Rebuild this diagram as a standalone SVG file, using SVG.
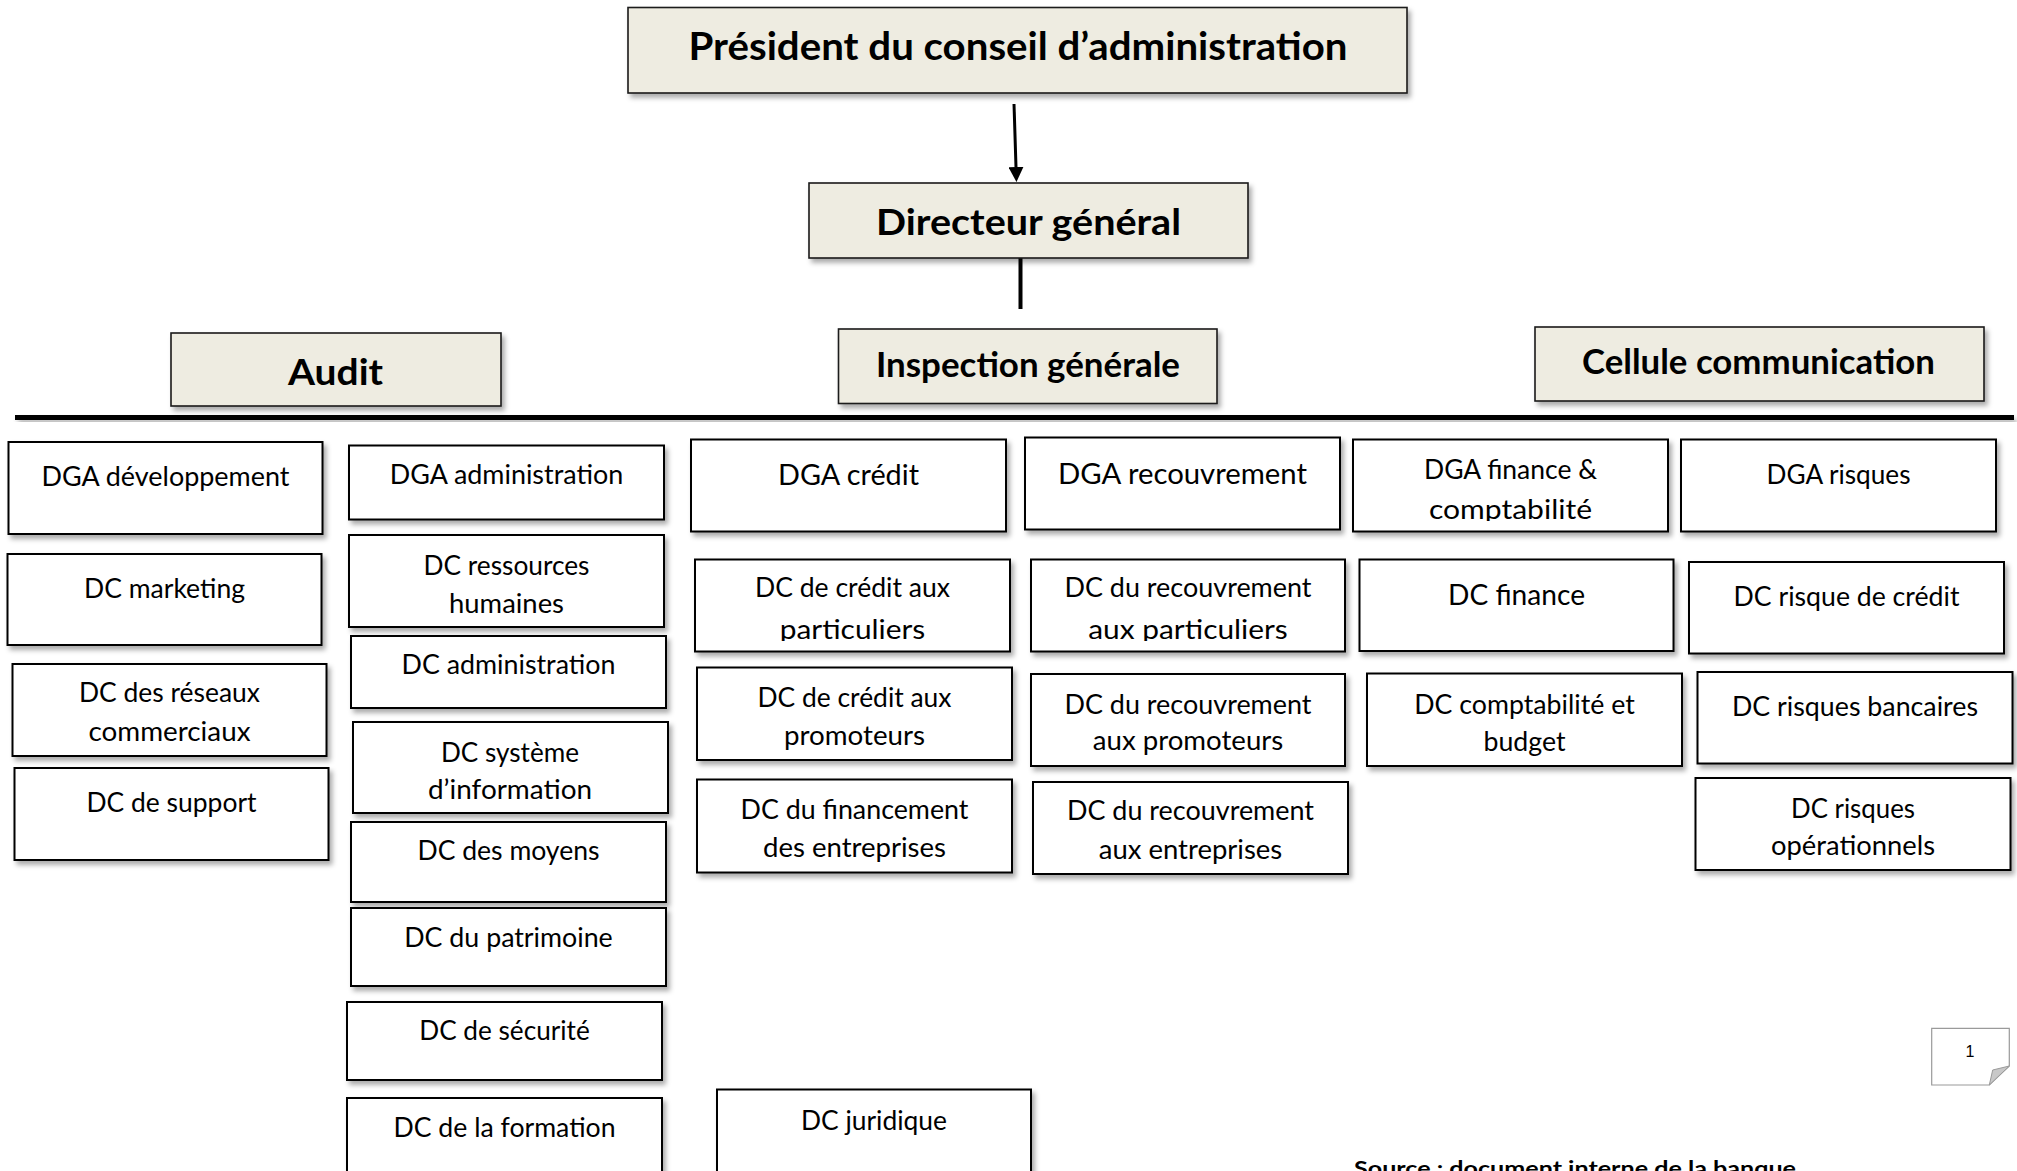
<svg xmlns="http://www.w3.org/2000/svg" width="2017" height="1171" viewBox="0 0 2017 1171">
  <defs>
    <style>
      .box { fill: #ffffff; stroke: #000000; stroke-width: 2; filter: url(#sh); }
      .head { fill: #EEECE1; stroke: #1a1a1a; stroke-width: 1.6; filter: url(#sh); }
      .t { font-family: Lato, "Noto Sans", "Liberation Sans", sans-serif; font-size: 26px; fill: #000; text-anchor: middle; }
      .tl { font-size: 28.5px; }
      .tb { font-family: Lato, "Noto Sans", "Liberation Sans", sans-serif; font-weight: bold; fill: #000; text-anchor: middle; }
      .wire { stroke: #000; fill: none; }
      .note { fill: #ffffff; stroke: #9a9a9a; stroke-width: 1.2; }
    </style>
    <filter id="sh" x="-5%" y="-10%" width="115%" height="135%">
      <feDropShadow dx="3" dy="4" stdDeviation="2.5" flood-color="#000" flood-opacity="0.33"/>
    </filter>
    <marker id="arrow" viewBox="0 0 10 10" refX="0" refY="5" markerUnits="userSpaceOnUse" markerWidth="15" markerHeight="15" orient="auto">
      <path d="M0,0 L10,5 L0,10 z" fill="#000"/>
    </marker>
    <!-- text frames that crop the second line of some boxes -->
    <clipPath id="clipCreditPart"><rect x="695" y="559" width="315" height="82"/></clipPath>
    <clipPath id="clipRecPart"><rect x="1031" y="559" width="315" height="82"/></clipPath>
    <clipPath id="clipDgaFin"><rect x="1353" y="439" width="315" height="82"/></clipPath>
  </defs>

  <rect x="0" y="0" width="2017" height="1171" fill="#ffffff"/>

  <!-- connectors -->
  <g id="connectors">
    <line class="wire" x1="1014" y1="104" x2="1016" y2="167" stroke-width="3" marker-end="url(#arrow)"/>
    <line class="wire" x1="1020.5" y1="258" x2="1020.5" y2="309" stroke-width="4"/>
    <rect x="15" y="415" width="1999" height="5" fill="#000" filter="url(#sh)"/>
  </g>

  <!-- top management -->
  <g id="president">
    <rect class="head" x="628" y="7.5" width="779" height="85.5"/>
    <text class="tb" x="1018" y="59.5" font-size="39" textLength="659" lengthAdjust="spacingAndGlyphs">Président du conseil d’administration</text>
  </g>
  <g id="directeur-general">
    <rect class="head" x="809" y="183" width="439" height="75"/>
    <text class="tb" x="1028.5" y="235" font-size="37" textLength="305" lengthAdjust="spacingAndGlyphs">Directeur général</text>
  </g>
  <g id="audit">
    <rect class="head" x="171" y="333" width="330" height="73"/>
    <text class="tb" x="335.5" y="385" font-size="36" textLength="95" lengthAdjust="spacingAndGlyphs">Audit</text>
  </g>
  <g id="inspection-generale">
    <rect class="head" x="838.5" y="329" width="378.5" height="74.5"/>
    <text class="tb" x="1028" y="377" font-size="34" textLength="304" lengthAdjust="spacingAndGlyphs">Inspection générale</text>
  </g>
  <g id="cellule-communication">
    <rect class="head" x="1535" y="327" width="449" height="74"/>
    <text class="tb" x="1758.5" y="373.5" font-size="34" textLength="353" lengthAdjust="spacingAndGlyphs">Cellule communication</text>
  </g>

  <!-- column 1: développement -->
  <g id="dga-developpement">
    <rect class="box" x="8.5" y="442" width="314" height="92"/>
    <text class="t" x="165.5" y="486" textLength="248" lengthAdjust="spacingAndGlyphs">DGA développement</text>
  </g>
  <g id="dc-marketing">
    <rect class="box" x="7.5" y="554" width="314" height="91"/>
    <text class="t" x="164.5" y="598" textLength="161" lengthAdjust="spacingAndGlyphs">DC marketing</text>
  </g>
  <g id="dc-reseaux">
    <rect class="box" x="12.5" y="664" width="314" height="92"/>
    <text class="t" x="169.5" y="702" textLength="181" lengthAdjust="spacingAndGlyphs">DC des réseaux</text>
    <text class="t" x="169.5" y="741" textLength="162" lengthAdjust="spacingAndGlyphs">commerciaux</text>
  </g>
  <g id="dc-support">
    <rect class="box" x="14.5" y="768" width="314" height="92"/>
    <text class="t" x="171.5" y="812" textLength="170" lengthAdjust="spacingAndGlyphs">DC de support</text>
  </g>

  <!-- column 2: administration -->
  <g id="dga-administration">
    <rect class="box" x="349" y="445.5" width="315" height="74"/>
    <text class="t" x="506.5" y="483.5" textLength="233.5" lengthAdjust="spacingAndGlyphs">DGA administration</text>
  </g>
  <g id="dc-ressources-humaines">
    <rect class="box" x="349" y="535" width="315" height="92"/>
    <text class="t" x="506.5" y="575" textLength="166" lengthAdjust="spacingAndGlyphs">DC ressources</text>
    <text class="t" x="506.5" y="613" textLength="115" lengthAdjust="spacingAndGlyphs">humaines</text>
  </g>
  <g id="dc-administration">
    <rect class="box" x="351" y="636" width="315" height="72"/>
    <text class="t" x="508.5" y="673.5" textLength="214" lengthAdjust="spacingAndGlyphs">DC administration</text>
  </g>
  <g id="dc-systeme-information">
    <rect class="box" x="353" y="722" width="315" height="91"/>
    <text class="t" x="510" y="762" textLength="138" lengthAdjust="spacingAndGlyphs">DC système</text>
    <text class="t" x="510" y="798.5" textLength="164" lengthAdjust="spacingAndGlyphs">d’information</text>
  </g>
  <g id="dc-moyens">
    <rect class="box" x="351" y="822" width="315" height="80"/>
    <text class="t" x="508.5" y="859.5" textLength="182" lengthAdjust="spacingAndGlyphs">DC des moyens</text>
  </g>
  <g id="dc-patrimoine">
    <rect class="box" x="351" y="908" width="315" height="78"/>
    <text class="t" x="508.5" y="947" textLength="208.5" lengthAdjust="spacingAndGlyphs">DC du patrimoine</text>
  </g>
  <g id="dc-securite">
    <rect class="box" x="347" y="1002" width="315" height="78"/>
    <text class="t" x="504.5" y="1040" textLength="170.5" lengthAdjust="spacingAndGlyphs">DC de sécurité</text>
  </g>
  <g id="dc-formation">
    <rect class="box" x="347" y="1098" width="315" height="92"/>
    <text class="t" x="504.5" y="1137" textLength="222" lengthAdjust="spacingAndGlyphs">DC de la formation</text>
  </g>

  <!-- column 3: crédit -->
  <g id="dga-credit">
    <rect class="box" x="691" y="439.5" width="315" height="92"/>
    <text class="t tl" x="848.5" y="485" textLength="141" lengthAdjust="spacingAndGlyphs">DGA crédit</text>
  </g>
  <g id="dc-credit-particuliers">
    <rect class="box" x="695" y="559.5" width="315" height="92"/>
    <g clip-path="url(#clipCreditPart)">
      <text class="t" x="852.5" y="597" textLength="195" lengthAdjust="spacingAndGlyphs">DC de crédit aux</text>
      <text class="t" x="852.5" y="638.5" textLength="145.5" lengthAdjust="spacingAndGlyphs">particuliers</text>
    </g>
  </g>
  <g id="dc-credit-promoteurs">
    <rect class="box" x="697" y="667.5" width="315" height="92.5"/>
    <text class="t" x="854.5" y="707" textLength="194" lengthAdjust="spacingAndGlyphs">DC de crédit aux</text>
    <text class="t" x="854.5" y="745" textLength="141" lengthAdjust="spacingAndGlyphs">promoteurs</text>
  </g>
  <g id="dc-financement-entreprises">
    <rect class="box" x="697" y="779.5" width="315" height="93"/>
    <text class="t" x="854.5" y="818.5" textLength="228" lengthAdjust="spacingAndGlyphs">DC du financement</text>
    <text class="t" x="854.5" y="857" textLength="183" lengthAdjust="spacingAndGlyphs">des entreprises</text>
  </g>
  <g id="dc-juridique">
    <rect class="box" x="717" y="1089.5" width="314" height="95"/>
    <text class="t" x="874" y="1129.5" textLength="146" lengthAdjust="spacingAndGlyphs">DC juridique</text>
  </g>

  <!-- column 4: recouvrement -->
  <g id="dga-recouvrement">
    <rect class="box" x="1025" y="437.5" width="315" height="92"/>
    <text class="t tl" x="1182.5" y="483.5" textLength="249" lengthAdjust="spacingAndGlyphs">DGA recouvrement</text>
  </g>
  <g id="dc-recouvrement-particuliers">
    <rect class="box" x="1031" y="559.5" width="314" height="92"/>
    <g clip-path="url(#clipRecPart)">
      <text class="t" x="1188" y="597" textLength="247" lengthAdjust="spacingAndGlyphs">DC du recouvrement</text>
      <text class="t" x="1188" y="638.5" textLength="199.5" lengthAdjust="spacingAndGlyphs">aux particuliers</text>
    </g>
  </g>
  <g id="dc-recouvrement-promoteurs">
    <rect class="box" x="1031" y="674" width="314" height="92"/>
    <text class="t" x="1188" y="713.5" textLength="247" lengthAdjust="spacingAndGlyphs">DC du recouvrement</text>
    <text class="t" x="1188" y="750" textLength="190.5" lengthAdjust="spacingAndGlyphs">aux promoteurs</text>
  </g>
  <g id="dc-recouvrement-entreprises">
    <rect class="box" x="1033" y="782" width="315" height="92"/>
    <text class="t" x="1190.5" y="819.5" textLength="247" lengthAdjust="spacingAndGlyphs">DC du recouvrement</text>
    <text class="t" x="1190.5" y="858.5" textLength="183.5" lengthAdjust="spacingAndGlyphs">aux entreprises</text>
  </g>

  <!-- column 5: finance -->
  <g id="dga-finance-comptabilite">
    <rect class="box" x="1353" y="439.5" width="315" height="92"/>
    <g clip-path="url(#clipDgaFin)">
      <text class="t" x="1510.5" y="478.5" textLength="173" lengthAdjust="spacingAndGlyphs">DGA finance &amp;</text>
      <text class="t" x="1510.5" y="518.5" textLength="163" lengthAdjust="spacingAndGlyphs">comptabilité</text>
    </g>
  </g>
  <g id="dc-finance">
    <rect class="box" x="1359.5" y="559.5" width="314" height="91.5"/>
    <text class="t tl" x="1516.5" y="605" textLength="137" lengthAdjust="spacingAndGlyphs">DC finance</text>
  </g>
  <g id="dc-comptabilite-budget">
    <rect class="box" x="1367" y="673.5" width="315" height="92.5"/>
    <text class="t" x="1524.5" y="713.5" textLength="220.5" lengthAdjust="spacingAndGlyphs">DC comptabilité et</text>
    <text class="t" x="1524.5" y="751" textLength="82" lengthAdjust="spacingAndGlyphs">budget</text>
  </g>

  <!-- column 6: risques -->
  <g id="dga-risques">
    <rect class="box" x="1681" y="439.5" width="315" height="92"/>
    <text class="t" x="1838.5" y="483.5" textLength="144" lengthAdjust="spacingAndGlyphs">DGA risques</text>
  </g>
  <g id="dc-risque-credit">
    <rect class="box" x="1689" y="562" width="315" height="91.5"/>
    <text class="t" x="1846.5" y="606" textLength="226" lengthAdjust="spacingAndGlyphs">DC risque de crédit</text>
  </g>
  <g id="dc-risques-bancaires">
    <rect class="box" x="1697.5" y="672" width="315" height="91.5"/>
    <text class="t" x="1855" y="716" textLength="246" lengthAdjust="spacingAndGlyphs">DC risques bancaires</text>
  </g>
  <g id="dc-risques-operationnels">
    <rect class="box" x="1695.5" y="778" width="315" height="92"/>
    <text class="t" x="1853" y="817.5" textLength="124" lengthAdjust="spacingAndGlyphs">DC risques</text>
    <text class="t" x="1853" y="855" textLength="164" lengthAdjust="spacingAndGlyphs">opérationnels</text>
  </g>

  <!-- page number tab with folded corner -->
  <g id="page-number">
    <path class="note" d="M1931.7,1028.3 H2009.3 V1066 L1989.3,1085 H1931.7 Z"/>
    <path d="M2009.3,1066 L1992.7,1070 L1989.3,1085 Z" fill="#c8c8c8" stroke="#9a9a9a" stroke-width="1"/>
    <text x="1970" y="1057" font-family="'Liberation Sans', Arial, sans-serif" font-size="16" text-anchor="middle" fill="#000">1</text>
  </g>

  <!-- source line -->
  <text id="source" x="1354" y="1176" font-family="Lato, 'Noto Sans', sans-serif" font-weight="bold" font-size="21.5" fill="#000" textLength="442" lengthAdjust="spacingAndGlyphs">Source : document interne de la banque</text>
</svg>
